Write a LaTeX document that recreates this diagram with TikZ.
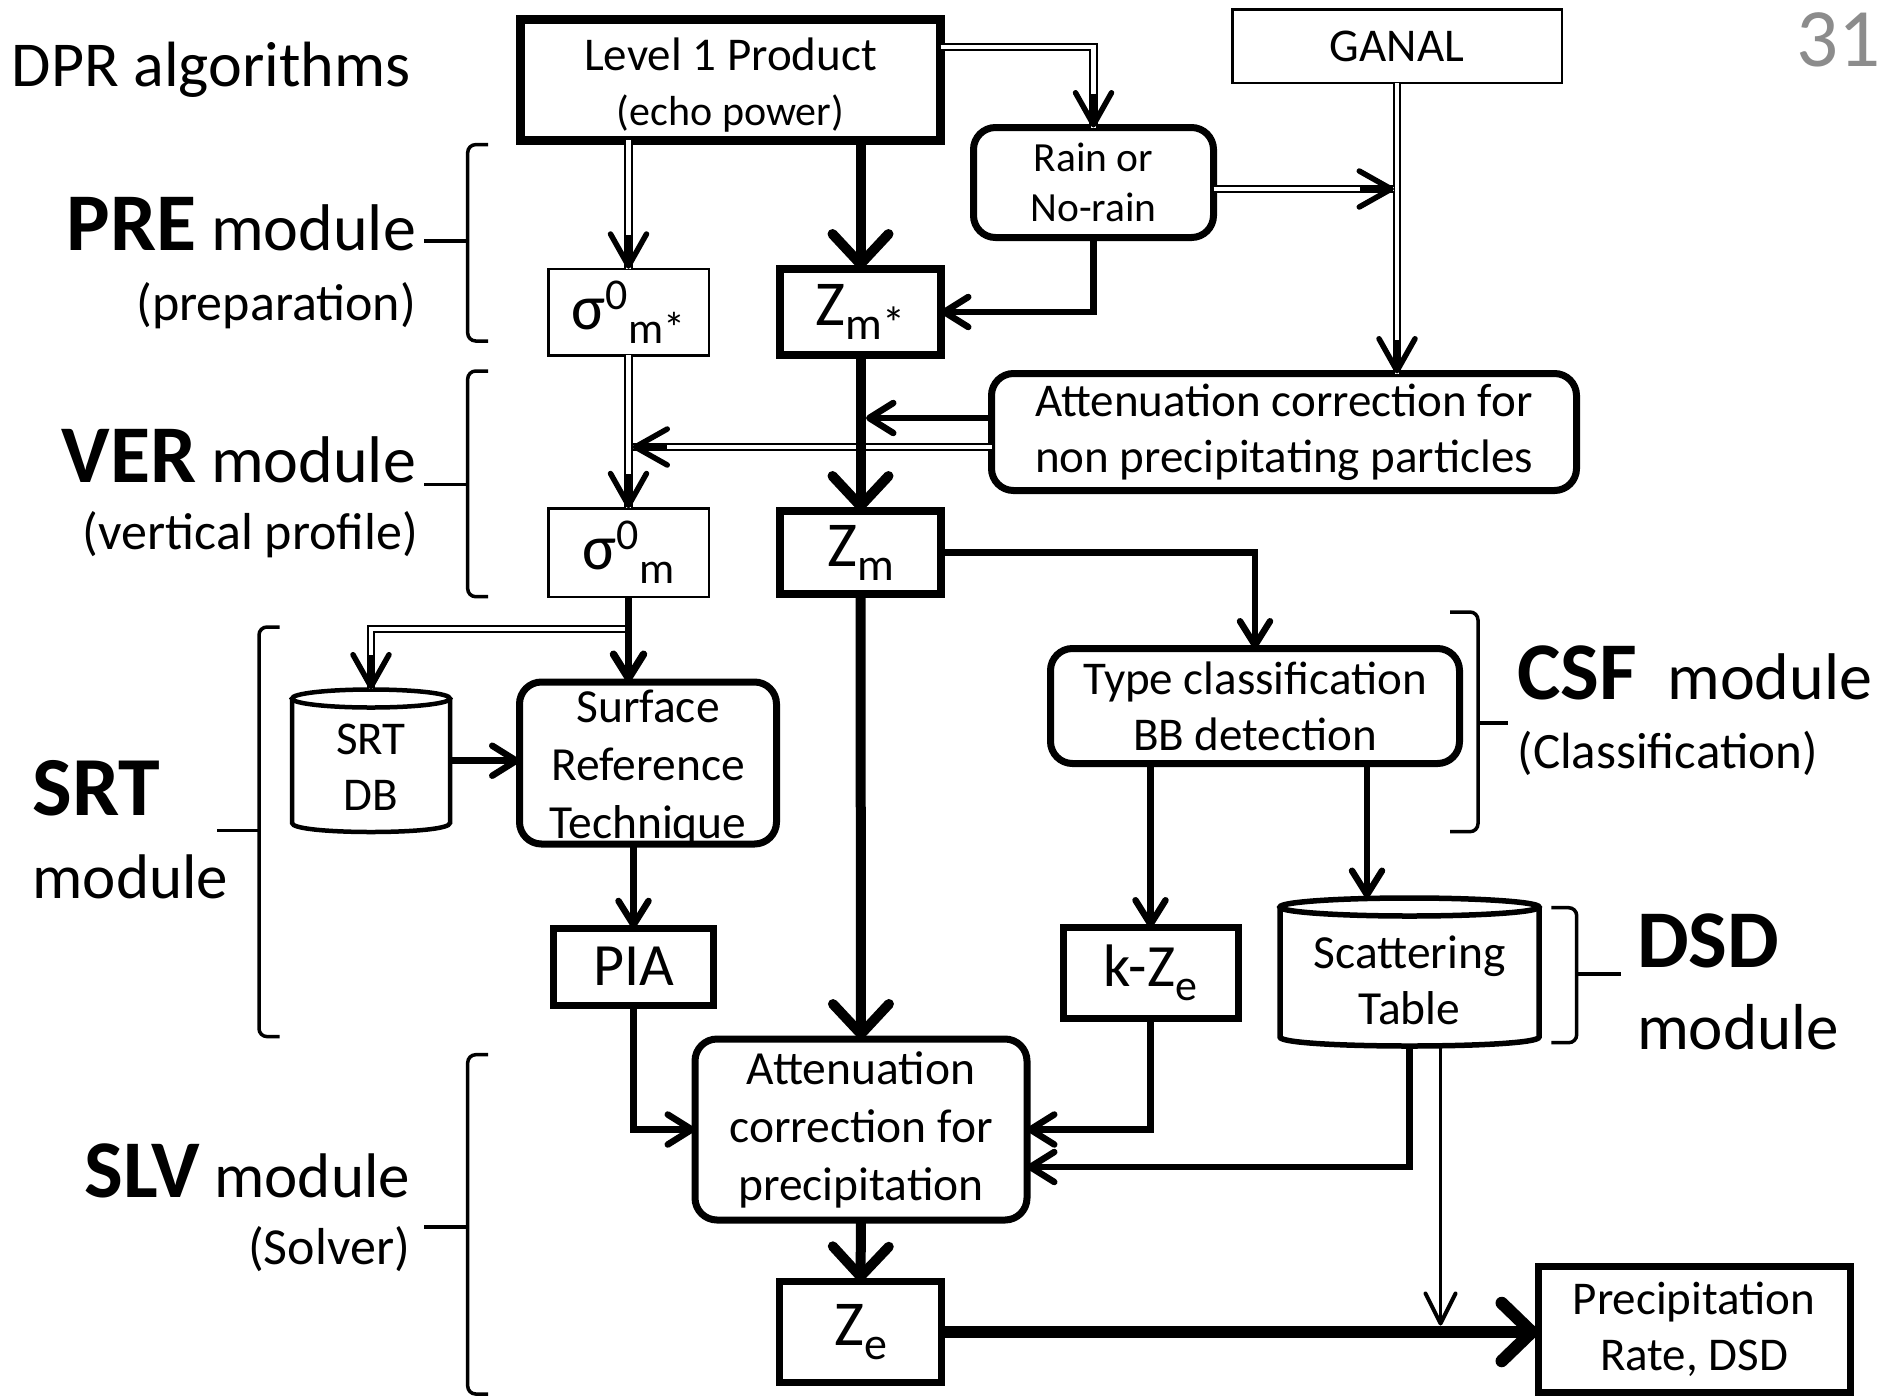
\documentclass[tikz,border=0pt]{standalone}
\usepackage{fontspec}
\setmainfont{Carlito}
\usetikzlibrary{arrows.meta,calc}
\definecolor{numgray}{RGB}{140,140,140}
\newcommand{\myfs}[2]{\fontsize{#1pt}{#2pt}\selectfont}
\newcommand{\sigsub}[1]{{\myfs{64}{64}σ}\raisebox{20pt}{\myfs{44}{44}0}\raisebox{-14pt}{\myfs{44}{44}#1}}
\newcommand{\zsub}[2]{{\myfs{64}{64}#1}\raisebox{-14pt}{\myfs{46}{46}#2}}
\begin{document}
\begin{tikzpicture}[x=1pt,y=-1pt,
  box/.style={draw, inner sep=0pt, outer sep=0pt, align=center, font=\myfs{47}{56}},
  rbox/.style={box, rounded corners=22pt},
  cyl/.style={line width=#1},
  lbl/.style={inner sep=0pt, outer sep=0pt},
  thk/.style={line width=10pt, -{Straight Barb[length=30pt,width=56pt,round]}},
  vthk/.style={line width=12.5pt, -{Straight Barb[length=30pt,width=58pt,round]}},
  med/.style={line width=6.5pt, -{Straight Barb[length=24pt,width=30pt,round]}},
  thn/.style={line width=2.5pt, -{Straight Barb[length=30pt,width=30pt,round,line width=1.5pt 1]}},
  dbl/.style={double=white, double distance=4.5pt, line width=2pt},
  dtip/.style={line width=5.5pt, -{Straight Barb[length=32pt,width=36pt,round]}},
  brc/.style={line width=3.5pt, rounded corners=8pt}
]
\fill[white] (0,0) rectangle (1890,1398);
\useasboundingbox (0,0) rectangle (1890,1398);

% ---------- boxes ----------
\node[box, line width=9pt, minimum width=420pt, minimum height=121pt] (L1) at (730.5,79.5) {};
\node[lbl, align=center, font=\myfs{47}{55}] (L1t) at (730.5,85)
  {Level 1 Product\\\myfs{42}{55}(echo power)};
\node[box, line width=2.5pt, minimum width=329.5pt, minimum height=73.5pt] (GANAL) at (1397,46.4) {GANAL};
\node[rbox, line width=7pt, minimum width=240pt, minimum height=110pt, font=\myfs{41.5}{50}] (Rain) at (1093.5,182.5) {Rain or\\No-rain};
\node[box, line width=2.5pt, minimum width=160.5pt, minimum height=86.5pt] (S0ms) at (628.5,312) {\sigsub{m*}};
\node[box, line width=8pt, minimum width=161pt, minimum height=86pt] (Zms) at (860.5,312) {\zsub{Z}{m*}};
\node[rbox, line width=7pt, minimum width=585pt, minimum height=117pt] (ANP) at (1284,432)
  {Attenuation correction for\\non precipitating particles};
\node[box, line width=2.5pt, minimum width=160.5pt, minimum height=88.5pt] (S0m) at (628.5,552.5) {\sigsub{m}};
\node[box, line width=8pt, minimum width=161pt, minimum height=83pt] (Zm) at (860.5,552.5) {\zsub{Z}{m}};
\node[rbox, line width=7pt, minimum width=409pt, minimum height=115pt] (TC) at (1255,706)
  {Type classification\\BB detection};
% SRT DB cylinder
\node[lbl, minimum width=158pt, minimum height=142.5pt] (SRTDB) at (371,760.7) {};
\draw[cyl=4.5pt] (292,698.5) -- (292,823) .. controls (292,835) and (450,835) .. (450,823) -- (450,698.5);
\draw[cyl=4.5pt] (371,698.5) ellipse[x radius=79, y radius=9];
\node[lbl, align=center, font=\myfs{47}{56}] (SRTDBt) at (371,767) {SRT\\DB};
\node[rbox, line width=7pt, minimum width=257pt, minimum height=162pt] (SRT) at (648,763) {};
\node[lbl, align=center, font=\myfs{47.5}{58}] (SRTt) at (648,768) {Surface\\Reference\\Technique};
\node[box, line width=7pt, minimum width=160pt, minimum height=77pt, font=\myfs{60}{60}] (PIA) at (633.5,966.7) {PIA};
\node[box, line width=7pt, minimum width=175pt, minimum height=91pt] (KZE) at (1150.5,973)
  {{\myfs{60}{60}k-Z}\raisebox{-14pt}{\myfs{44}{44}e}};
% Scattering table cylinder
\node[lbl, minimum width=259pt, minimum height=148pt] (ST) at (1409.5,972) {};
\draw[cyl=5.5pt] (1280,907) -- (1280,1037) .. controls (1280,1049) and (1539,1049) .. (1539,1037) -- (1539,907);
\draw[cyl=5.5pt] (1409.5,907) ellipse[x radius=129.5, y radius=9];
\node[lbl, align=center, font=\myfs{47.5}{56}] (STt) at (1409.5,980) {Scattering\\Table};
\node[rbox, line width=7pt, minimum width=332pt, minimum height=181pt, font=\myfs{47.5}{58}] (ACP) at (861,1129.5)
  {Attenuation\\correction for\\precipitation};
\node[box, line width=7pt, minimum width=162pt, minimum height=101pt] (Ze) at (860.5,1332) {\zsub{Z}{e}};
\node[box, line width=7pt, minimum width=312pt, minimum height=126pt] (PR) at (1694,1329.5)
  {Precipitation\\Rate, DSD};

% ---------- labels ----------
\node[lbl, anchor=base west, font=\myfs{64}{64}] (title) at (12,86.8) {DPR algorithms};
\node[lbl, anchor=base east, font=\myfs{83}{83}, text=numgray] (pg) at (1881,66) {31};
\node[lbl, anchor=base east, font=\myfs{66}{66}] (pre) at (416,250.7) {{\myfs{82}{82}\bfseries PRE} module};
\node[lbl, anchor=base east, font=\myfs{52}{52}] (prep) at (416,320) {(preparation)};
\node[lbl, anchor=base east, font=\myfs{66}{66}] (ver) at (416,482) {{\myfs{82}{82}\bfseries VER} module};
\node[lbl, anchor=base east, font=\myfs{52}{52}] (vp) at (418,549) {(vertical profile)};
\node[lbl, anchor=base west, font=\myfs{84}{84}\bfseries] (srtl) at (32.5,815) {SRT};
\node[lbl, anchor=base west, font=\myfs{63}{63}] (srtm) at (32.5,898) {module};
\node[lbl, anchor=base east, font=\myfs{63}{63}] (slv) at (410,1197) {{\myfs{82}{82}\bfseries SLV} module};
\node[lbl, anchor=base east, font=\myfs{52}{52}] (solv) at (410,1264) {(Solver)};
\node[lbl, anchor=base west, font=\myfs{66}{66}] (csf) at (1517.6,699) {{\myfs{82}{82}\bfseries CSF}\hspace{30pt}module};
\node[lbl, anchor=base west, font=\myfs{51}{51}] (cls) at (1517.6,768) {(Classification)};
\node[lbl, anchor=base west, font=\myfs{82}{82}\bfseries] (dsd) at (1637,967) {DSD};
\node[lbl, anchor=base west, font=\myfs{65}{65}] (dsdm) at (1637,1049) {module};

% ---------- braces ----------
\draw[brc] (488,144.6) -- (467.7,144.6) -- (467.7,341) -- (488,341);
\draw[brc] (424,241) -- (467.7,241);
\draw[brc] (488,371) -- (467.7,371) -- (467.7,596.7) -- (488,596.7);
\draw[brc] (424,484.6) -- (467.7,484.6);
\draw[brc] (279.6,627) -- (259,627) -- (259,1036.6) -- (279.6,1036.6);
\draw[brc] (217,830.5) -- (259,830.5);
\draw[brc] (488,1054.7) -- (467.7,1054.7) -- (467.7,1394) -- (488,1394);
\draw[brc] (424,1227) -- (467.7,1227);
\draw[brc] (1450,612) -- (1478,612) -- (1478,831.7) -- (1450,831.7);
\draw[brc] (1478,723) -- (1508,723);
\draw[brc] (1551.4,907.7) -- (1576.7,907.7) -- (1576.7,1042.7) -- (1551.4,1042.7);
\draw[brc] (1576.7,974) -- (1621,974);

% ---------- connectors ----------
% Level 1 -> sigma0 m*
\draw[dbl] (L1.south -| S0ms.north) -- (S0ms.north);
\draw[dtip] ([yshift=34pt]S0ms.north) -- (S0ms.north);
% Level 1 -> Zm*
\draw[thk] (L1.south -| Zms.north) -- (Zms.north);
% Level 1 -> Rain
\coordinate (l1r) at ([yshift=32.5pt]L1.east);
\draw[dbl] (l1r) -| (Rain.north);
\draw[dtip] ([yshift=34pt]Rain.north) -- (Rain.north);
% Rain -> Zm*
\draw[med] (Rain.south) |- (Zms.east);
% GANAL -> ANP
\coordinate (a6) at (GANAL.south |- ANP.north);
\draw[dbl] (GANAL.south) -- (a6);
\draw[dtip] ([yshift=34pt]a6) -- (a6);
% Rain -> GANAL line
\coordinate (rr) at ([yshift=-6.5pt]Rain.east);
\coordinate (g1) at ($(GANAL.south |- rr)+(-3,0)$);
\draw[dbl] (rr) -- (g1);
\draw[dtip] ([xshift=-34pt]g1) -- (g1);
% ANP -> sigma line
\coordinate (a8s) at ([yshift=-15pt]ANP.west);
\coordinate (a8e) at ($(S0ms.south |- a8s)+(4,0)$);
\draw[dbl] (a8s) -- (a8e);
% sigma0 m* -> sigma0 m
\draw[dbl] (S0ms.south) -- (S0m.north);
\draw[dtip] ([xshift=34pt]a8e) -- (a8e);
\draw[dtip] ([yshift=34pt]S0m.north) -- (S0m.north);
% Zm* -> Zm
\draw[thk] (Zms.south) -- (Zm.north);
% ANP -> Z line
\coordinate (a7s) at ([yshift=14pt]ANP.west);
\coordinate (a7e) at ($(Zms.south |- a7s)+(5.5,0)$);
\draw[med] (a7s) -- (a7e);
% Zm -> TC
\draw[med] (Zm.east) -| (TC.north);
% Zm -> ACP
\draw[thk] (Zm.south) -- (ACP.north);
% sigma0 m -> SRT DB and SRT
\coordinate (j1) at ([yshift=-32pt]S0m.south);
\draw[dbl] (j1) -| (SRTDB.north);
\draw[dtip] ([yshift=34pt]SRTDB.north) -- (SRTDB.north);
\draw[med, line width=7.5pt] (S0m.south) -- (S0m.south |- SRT.north);
% SRT DB -> SRT
\draw[med] (SRTDB.east) -- (SRTDB.east -| SRT.west);
% SRT -> PIA
\coordinate (c15) at (SRT.south -| PIA.north);
\draw[med] (c15) -- (PIA.north);
% PIA -> ACP
\draw[med] (PIA.south) |- (ACP.west);
% TC -> k-Ze
\draw[med] (TC.south -| KZE.north) -- (KZE.north);
% TC -> Scattering table
\coordinate (c18) at ($(TC.south)+(112,0)$);
\draw[med] (c18) -- (c18 |- ST.north);
% k-Ze -> ACP
\draw[med] (KZE.south) |- (ACP.east);
% ST -> ACP
\draw[med] (ST.south) |- ([yshift=-37.5pt]ACP.east);
% ACP -> Ze
\draw[thk] (ACP.south) -- (Ze.north);
% Ze -> PR
\draw[vthk] (Ze.east) -- (Ze.east -| PR.west);
% ST -> PR line
\coordinate (c21) at ($(ST.south)+(31,0)$);
\coordinate (c21e) at ($(c21 |- Ze.east)+(0,-6.5)$);
\draw[thn] (c21) -- (c21e);
\end{tikzpicture}
\end{document}
